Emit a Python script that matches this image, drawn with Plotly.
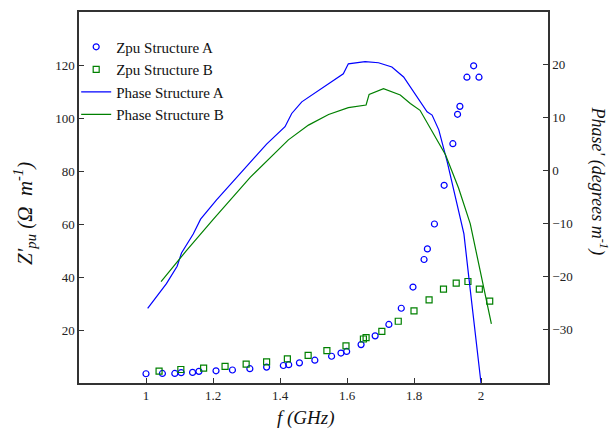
import plotly.graph_objects as go

# Zpu Structure A (circles)
zpu_a_f = [1.0, 1.049, 1.086, 1.105, 1.139, 1.158, 1.209, 1.258, 1.310, 1.360, 1.41, 1.426, 1.458,
           1.504, 1.554, 1.582, 1.599, 1.642, 1.684, 1.725, 1.762, 1.797, 1.830, 1.840, 1.861,
           1.890, 1.916, 1.930, 1.937, 1.958, 1.978, 1.994]
zpu_a_v = [3.5, 3.6, 3.6, 3.9, 4.0, 4.4, 4.6, 4.9, 5.4, 6.0, 6.6, 6.9, 7.6,
           8.6, 10.1, 11.3, 11.9, 14.5, 17.8, 22.1, 28.2, 36.2, 46.6, 50.6, 60.0,
           74.6, 90.3, 101.4, 104.4, 115.4, 119.7, 115.4]

# Zpu Structure B (squares)
zpu_b_f = [1.039, 1.104, 1.172, 1.236, 1.299, 1.36, 1.422, 1.484, 1.540, 1.597, 1.649, 1.657,
           1.704, 1.753, 1.800, 1.845, 1.888, 1.926, 1.961, 1.995, 2.026]
zpu_b_v = [4.5, 5.1, 5.6, 6.3, 7.1, 8.0, 9.1, 10.4, 12.2, 14.0, 16.6, 17.1,
           19.5, 23.3, 27.2, 31.4, 35.4, 37.7, 38.3, 35.4, 30.9]

# Phase Structure A (line)
ph_a_f = [1.005, 1.061, 1.093, 1.106, 1.141, 1.163, 1.21, 1.261, 1.311, 1.36, 1.415, 1.435, 1.465,
          1.510, 1.589, 1.604, 1.654, 1.694, 1.734, 1.769, 1.789, 1.839, 1.854, 1.874, 1.899,
          1.924, 1.939, 1.949, 1.964, 2.0]
ph_a_v = [-26.1, -21.4, -18.1, -15.6, -12.0, -9.2, -5.6, -2.0, 1.7, 5.0, 8.3, 10.8, 13.0,
          14.9, 18.3, 20.2, 20.6, 20.4, 19.6, 17.7, 15.8, 11.1, 10.5, 7.7, 1.7,
          -5.1, -9.8, -12.0, -20.4, -40.2]

# Phase Structure B (line)
ph_b_f = [1.045, 1.12, 1.2, 1.26, 1.311, 1.425, 1.485, 1.545, 1.604, 1.657, 1.666, 1.709,
          1.759, 1.789, 1.818, 1.894, 1.933, 1.968, 2.003, 2.031]
ph_b_v = [-21.0, -15.2, -9.3, -4.9, -1.3, 5.8, 8.6, 10.6, 11.9, 12.4, 14.4, 15.5,
          14.3, 12.7, 11.4, 3.0, -3.3, -10.1, -20.8, -29.0]

x_ticks = [1, 1.2, 1.4, 1.6, 1.8, 2]
x_tick_text = ["1", "1.2", "1.4", "1.6", "1.8", "2"]
y_ticks = [20, 40, 60, 80, 100, 120]
y2_ticks = [-30, -20, -10, 0, 10, 20]

BLUE = "rgb(0,0,255)"
GREEN = "rgb(0,128,0)"
FONT = "Liberation Serif"
AX = "#333333"

fig = go.Figure()
fig.add_trace(go.Scatter(x=zpu_a_f, y=zpu_a_v, mode="markers", name="Zpu Structure A",
                         marker=dict(symbol="circle-open", size=6, color=BLUE, line=dict(width=1.2))))
fig.add_trace(go.Scatter(x=zpu_b_f, y=zpu_b_v, mode="markers", name="Zpu Structure B",
                         marker=dict(symbol="square-open", size=6, color=GREEN, line=dict(width=1.2))))
fig.add_trace(go.Scatter(x=ph_a_f, y=ph_a_v, mode="lines", name="Phase Structure A",
                         line=dict(color=BLUE, width=1.2), yaxis="y2"))
fig.add_trace(go.Scatter(x=ph_b_f, y=ph_b_v, mode="lines", name="Phase Structure B",
                         line=dict(color=GREEN, width=1.2), yaxis="y2"))

fig.update_layout(
    width=613, height=437,
    margin=dict(l=79, r=65, t=10, b=54),
    paper_bgcolor="white", plot_bgcolor="white",
    font=dict(family=FONT, size=13, color="#222222"),
    showlegend=True,
    legend=dict(x=-0.006, y=0.95, xanchor="left", yanchor="top", bgcolor="rgba(0,0,0,0)",
                font=dict(family=FONT, size=15, color="#111111"), itemwidth=30,
                tracegroupgap=0),
    xaxis=dict(range=[0.8, 2.2], tickvals=x_ticks, ticktext=x_tick_text,
               showgrid=False, zeroline=False, showline=True, linecolor=AX, linewidth=1.5,
               mirror=True, ticks="inside", ticklen=5, tickcolor=AX,
               tickfont=dict(family=FONT, size=13)),
    yaxis=dict(range=[0, 140], tickvals=y_ticks, showgrid=False, zeroline=False,
               showline=True, linecolor=AX, linewidth=1.5, ticks="inside", ticklen=5,
               tickcolor=AX, tickfont=dict(family=FONT, size=13)),
    yaxis2=dict(range=[-40.2, 30], tickvals=y2_ticks, overlaying="y", side="right",
                showgrid=False, zeroline=False, showline=True, linecolor=AX, linewidth=1.5,
                ticks="inside", ticklen=5, tickcolor=AX, tickfont=dict(family=FONT, size=13)),
)

fig.add_annotation(text="<i>f (GHz)</i>", xref="paper", yref="paper", x=0.485, y=-0.06,
                   xanchor="center", yanchor="top", showarrow=False,
                   font=dict(family=FONT, size=19, color="#111111"))
fig.add_annotation(text="<i>Z'<sub>pu</sub> (Ω  m<sup>-1</sup>)</i>", xref="paper", yref="paper",
                   x=-0.115, y=0.456, xanchor="center", yanchor="middle", showarrow=False,
                   textangle=-90, font=dict(family=FONT, size=21, color="#111111"))
fig.add_annotation(text="<i>Phase' (degrees m<sup>-1</sup>)</i>", xref="paper", yref="paper",
                   x=1.108, y=0.544, xanchor="center", yanchor="middle", showarrow=False,
                   textangle=90, font=dict(family=FONT, size=18, color="#111111"))

fig.write_html("out.html", config={"displayModeBar": False},
               post_script="document.body.style.margin='0';")
